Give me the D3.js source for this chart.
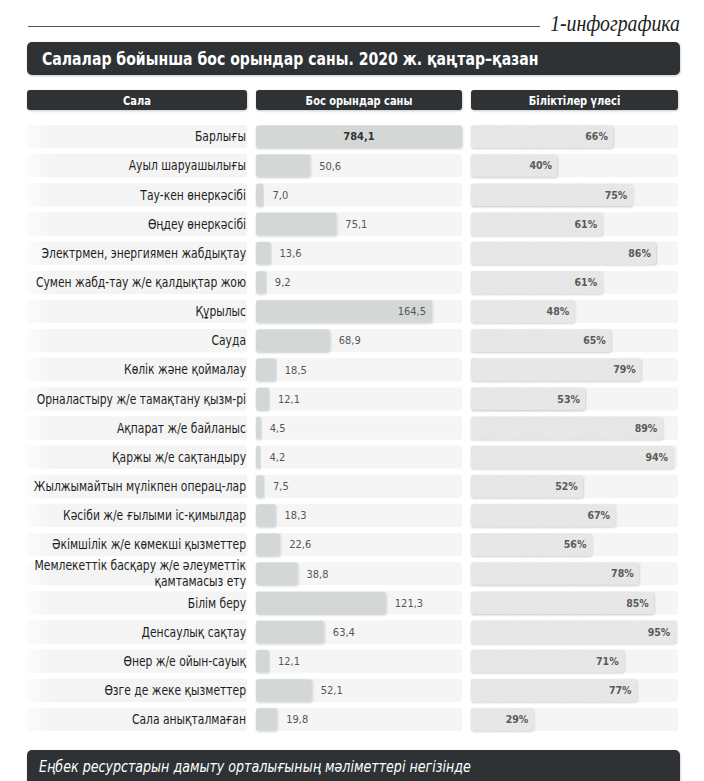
<!DOCTYPE html>
<html>
<head>
<meta charset="utf-8">
<script src="https://cdn.jsdelivr.net/npm/d3@7"></script>
<style>
  body { margin: 0; background: #fff; }
  svg { display: block; }
</style>
</head>
<body>
<svg id="chart"></svg>
<script>
const categories = [
  "Барлығы",
  "Ауыл шаруашылығы",
  "Тау-кен өнеркәсібі",
  "Өңдеу өнеркәсібі",
  "Электрмен, энергиямен жабдықтау",
  "Сумен жабд-тау ж/е қалдықтар жою",
  "Құрылыс",
  "Сауда",
  "Көлік және қоймалау",
  "Орналастыру ж/е тамақтану қызм-рі",
  "Ақпарат ж/е байланыс",
  "Қаржы ж/е сақтандыру",
  "Жылжымайтын мүлікпен операц-лар",
  "Кәсіби ж/е ғылыми іс-қимылдар",
  "Әкімшілік ж/е көмекші қызметтер",
  "Мемлекеттік басқару ж/е әлеуметтік қамтамасыз ету",
  "Білім беру",
  "Денсаулық сақтау",
  "Өнер ж/е ойын-сауық",
  "Өзге де жеке қызметтер",
  "Сала анықталмаған"
];
const vacancies = [784.1, 50.6, 7.0, 75.1, 13.6, 9.2, 164.5, 68.9, 18.5, 12.1, 4.5, 4.2, 7.5, 18.3, 22.6, 38.8, 121.3, 63.4, 12.1, 52.1, 19.8];
const shares = [66, 40, 75, 61, 86, 61, 48, 65, 79, 53, 89, 94, 52, 67, 56, 78, 85, 95, 71, 77, 29];
const columnTitles = ["Сала", "Бос орындар саны", "Біліктілер үлесі"];
const title = "Салалар бойынша бос орындар саны. 2020 ж. қаңтар–қазан";
const tag = "1-инфографика";
const source = "Еңбек ресурстарын дамыту орталығының мәліметтері негізінде";

const width = 704;
const height = 781;
const narrow = "'DejaVu Sans Condensed', 'Liberation Sans Narrow', sans-serif";
const dark = "#2e3335";

// column extents
const col1 = [27, 247];
const col2 = [256, 462];
const col3 = [471, 678];

const locale = d3.formatLocale({ decimal: ",", thousands: " ", grouping: [3], currency: ["", ""] });
const fmt = locale.format(".1f");

const svg = d3.select("#chart").attr("width", width).attr("height", height);
const defs = svg.append("defs");

// squeeze a text horizontally around its anchor point (condensed look)
function squeeze(sel, x, y, sx) {
  sel.attr("x", 0).attr("y", 0).attr("transform", `translate(${x},${y}) scale(${sx},1)`);
}

// soft shadow
const shadow = defs.append("filter").attr("id", "shadow")
  .attr("x", "-5%").attr("y", "-20%").attr("width", "110%").attr("height", "150%");
shadow.append("feDropShadow").attr("dx", 0.5).attr("dy", 1).attr("stdDeviation", 0.8)
  .attr("flood-color", "#000").attr("flood-opacity", 0.22);

// hatch for the share bars
const hatch = defs.append("pattern").attr("id", "hatch")
  .attr("patternUnits", "userSpaceOnUse").attr("width", 2.5).attr("height", 2.5)
  .attr("patternTransform", "rotate(45)");
hatch.append("rect").attr("width", 2.5).attr("height", 2.5).attr("fill", "#ebebeb");
hatch.append("line").attr("x1", 0).attr("y1", 0).attr("x2", 0).attr("y2", 2.5)
  .attr("stroke", "#d6d6d6").attr("stroke-width", 1);

// left stripe fades in from the edge
const fade = defs.append("linearGradient").attr("id", "fade");
fade.append("stop").attr("offset", "0%").attr("stop-color", "#f4f4f4").attr("stop-opacity", 0.3);
fade.append("stop").attr("offset", "12%").attr("stop-color", "#f4f4f4").attr("stop-opacity", 1);

// top rule and tag
svg.append("line").attr("x1", 28).attr("x2", 540).attr("y1", 26.5).attr("y2", 26.5)
  .attr("stroke", "#555").attr("stroke-width", 1);
svg.append("text").attr("text-anchor", "end")
  .style("font-family", "'Liberation Serif', serif").style("font-style", "italic")
  .style("font-size", "23px").attr("fill", "#222").text(tag)
  .call(squeeze, 680, 31, 0.86);

// title bar
svg.append("rect").attr("x", 27).attr("y", 42).attr("width", 653).attr("height", 33)
  .attr("rx", 5).attr("fill", dark).attr("filter", "url(#shadow)");
svg.append("text")
  .style("font-family", narrow).style("font-weight", "bold").style("font-size", "17px")
  .attr("fill", "#fff").text(title)
  .call(squeeze, 42, 64.5, 0.92);

// column headers
const cols = [col1, col2, col3];
svg.append("g").selectAll("g")
  .data(columnTitles)
  .join("g")
  .call((g) => {
    g.append("rect")
      .attr("x", (d, i) => cols[i][0]).attr("y", 90)
      .attr("width", (d, i) => cols[i][1] - cols[i][0]).attr("height", 20)
      .attr("rx", 3).attr("fill", dark).attr("filter", "url(#shadow)");
    g.append("text")
      .attr("text-anchor", "middle")
      .style("font-family", narrow).style("font-weight", "bold").style("font-size", "12.5px")
      .attr("fill", "#fff").text((d) => d)
      .each(function (d, i) {
        d3.select(this).call(squeeze, (cols[i][0] + cols[i][1]) / 2, 104.5, 0.88);
      });
  });

// scales
const y = d3.scaleBand().domain(categories).range([122, 734]).paddingInner(0.2).paddingOuter(0.1);
const x = d3.scaleLinear().domain([0, 192.5]).range([0, 206]).clamp(true);
const xs = d3.scaleLinear().domain([0, 100]).range([0, 215]).clamp(true);

const rows = svg.append("g").selectAll("g")
  .data(categories.map((c, i) => ({ name: c, v: vacancies[i], s: shares[i] })))
  .join("g")
  .attr("transform", (d) => `translate(0,${y(d.name)})`);

const bh = y.bandwidth();

// stripes per column
[col1, col2, col3].forEach((c, i) => {
  rows.append("rect").attr("x", c[0]).attr("width", c[1] - c[0])
    .attr("y", 0).attr("height", bh).attr("rx", 2)
    .attr("fill", i === 0 ? "url(#fade)" : "#f5f5f5");
});

// category labels
const labelScale = 0.88;
rows.append("text")
  .attr("text-anchor", "end")
  .style("font-family", narrow).style("font-size", "13.6px").attr("fill", "#1e1e1e")
  .call(squeeze, 246, bh / 2, labelScale)
  .each(function (d) {
    const t = d3.select(this);
    t.text(d.name);
    if (this.getComputedTextLength() * labelScale > 222) {
      const words = d.name.split(" ");
      const lines = [words.slice(0, 4).join(" "), words.slice(4).join(" ")];
      t.text(null);
      lines.forEach((l, k) => {
        t.append("tspan").attr("x", 0).attr("y", k === 0 ? -8 : 8)
          .attr("dy", "0.35em").text(l);
      });
    } else {
      t.attr("dy", "0.35em");
    }
  });

// vacancy bars
rows.append("rect")
  .attr("x", col2[0]).attr("y", 0.5).attr("height", bh - 1)
  .attr("width", (d) => Math.max(2, x(d.v))).attr("rx", 2)
  .attr("fill", "#d3d8d7").attr("filter", "url(#shadow)");

rows.append("text")
  .attr("y", bh / 2).attr("dy", "0.35em")
  .style("font-family", narrow).style("font-size", "11px")
  .each(function (d) {
    const t = d3.select(this).text(fmt(d.v));
    const end = col2[0] + x(d.v);
    if (d.v > x.domain()[1]) {
      t.attr("x", (col2[0] + col2[1]) / 2).attr("text-anchor", "middle")
        .style("font-weight", "bold").attr("fill", "#333");
    } else if (end + 9 + this.getComputedTextLength() > col2[1]) {
      t.attr("x", end - 6).attr("text-anchor", "end").attr("fill", "#555");
    } else {
      t.attr("x", end + 9).attr("fill", "#555");
    }
  });

// share bars
rows.append("rect")
  .attr("x", col3[0]).attr("y", 0.5).attr("height", bh - 1)
  .attr("width", (d) => xs(d.s)).attr("rx", 2)
  .attr("fill", "url(#hatch)").attr("filter", "url(#shadow)");

rows.append("text")
  .attr("x", (d) => col3[0] + xs(d.s) - 5).attr("y", bh / 2).attr("dy", "0.35em")
  .attr("text-anchor", "end")
  .style("font-family", narrow).style("font-size", "10.5px").style("font-weight", "bold")
  .attr("fill", "#5a5a5a").text((d) => d.s + "%");

// source bar
svg.append("rect").attr("x", 27).attr("y", 750).attr("width", 653).attr("height", 45)
  .attr("rx", 5).attr("fill", dark).attr("filter", "url(#shadow)");
svg.append("text")
  .style("font-family", narrow).style("font-style", "italic").style("font-size", "16px")
  .attr("fill", "#fff").text(source)
  .call(squeeze, 39, 772, 0.88);
</script>
</body>
</html>
